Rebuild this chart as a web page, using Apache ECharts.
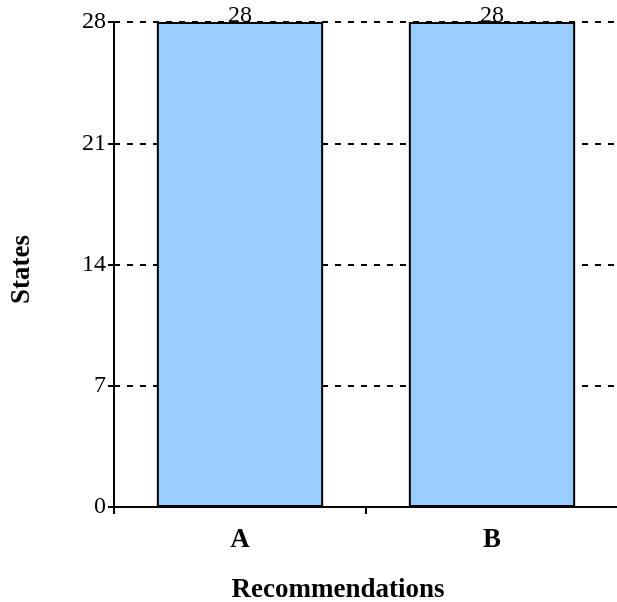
<!DOCTYPE html>
<html><head><meta charset="utf-8">
<script src="https://cdn.jsdelivr.net/npm/echarts@6/dist/echarts.min.js"></script>
<style>html,body{margin:0;padding:0;background:#fff}#c{width:617px;height:602px}</style>
</head><body><div id="c"></div>
<script>
var categories = ['A', 'B'];
var values = [28, 28];
var yTicks = [0, 7, 14, 21, 28];
var F = '"Liberation Serif","Times New Roman",serif';
var chart = echarts.init(document.getElementById('c'));
chart.setOption({
  animation: false,
  grid: {left: 114, right: -1, top: 22, bottom: 95, outerBoundsMode: 'none', containLabel: false},
  xAxis: {
    type: 'category', data: categories,
    name: 'Recommendations', nameLocation: 'middle', nameGap: 70,
    nameTextStyle: {fontFamily: F, fontSize: 27, fontWeight: 'bold', color: '#000', padding: [0, 56, 0, 0]},
    axisLine: {lineStyle: {color: '#000', width: 2}},
    axisTick: {show: true, length: 7, lineStyle: {color: '#000', width: 2}},
    axisLabel: {fontFamily: F, fontSize: 27, fontWeight: 'bold', color: '#000', margin: 20}
  },
  yAxis: {
    type: 'value', min: yTicks[0], max: yTicks[yTicks.length-1], interval: 7,
    name: 'States', nameLocation: 'middle', nameGap: 78,
    nameTextStyle: {fontFamily: F, fontSize: 27, fontWeight: 'bold', color: '#000', padding: [0, 10, 0, 0]},
    axisLine: {show: true, lineStyle: {color: '#000', width: 2}},
    axisTick: {show: true, length: 6, lineStyle: {color: '#000', width: 2}},
    axisLabel: {fontFamily: F, fontSize: 24, color: '#000', margin: 8},
    splitLine: {show: true, lineStyle: {color: '#000', width: 2, type: [6, 7]}}
  },
  series: [{
    type: 'bar', data: values, barWidth: '66%',
    itemStyle: {color: '#99CCFF', borderColor: '#000', borderWidth: 2},
    label: {show: true, position: 'top', distance: -6, fontFamily: F, fontSize: 24, color: '#000'}
  }]
});
</script></body></html>
